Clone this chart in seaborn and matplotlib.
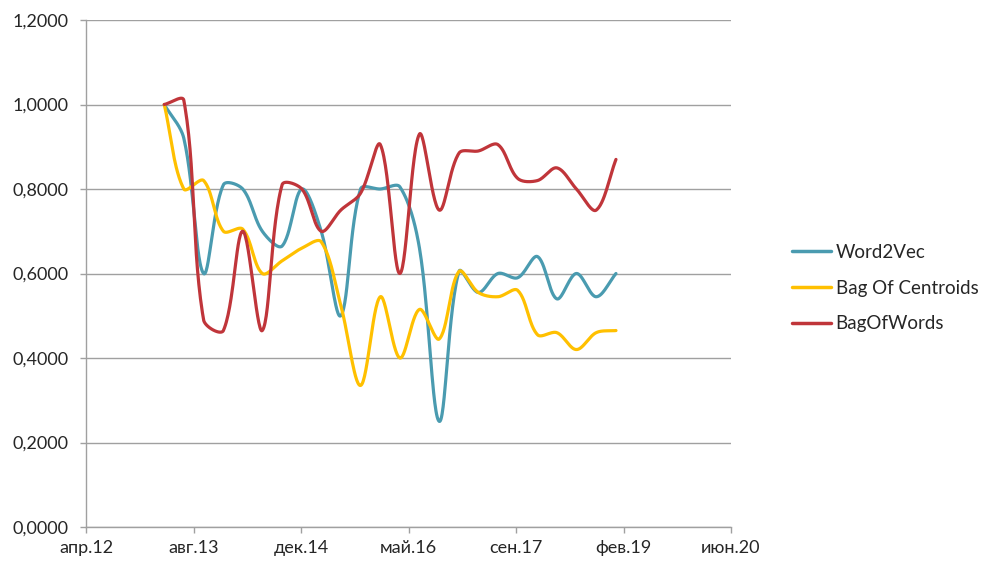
import numpy as np
import pandas as pd
import matplotlib
matplotlib.use("Agg")
import matplotlib.pyplot as plt
import matplotlib.dates as mdates
import seaborn as sns

# ---- data ----
dates = ["2013-03-31", "2013-06-30", "2013-09-30", "2013-12-31",
         "2014-03-31", "2014-06-30", "2014-09-30", "2014-12-31",
         "2015-03-31", "2015-06-30", "2015-09-30", "2015-12-31",
         "2016-03-31", "2016-06-30", "2016-09-30", "2016-12-31",
         "2017-03-31", "2017-06-30", "2017-09-30", "2017-12-31",
         "2018-03-31", "2018-06-30", "2018-09-30", "2018-12-31"]
word2vec = [1.000, 0.920, 0.600, 0.810, 0.800, 0.700, 0.665, 0.800,
            0.700, 0.500, 0.800, 0.800, 0.805, 0.660, 0.250, 0.605,
            0.555, 0.600, 0.590, 0.640, 0.540, 0.600, 0.545, 0.600]
bag_of_centroids = [1.000, 0.800, 0.820, 0.700, 0.705, 0.600, 0.630, 0.660,
                    0.675, 0.525, 0.335, 0.545, 0.400, 0.515, 0.445, 0.605,
                    0.555, 0.545, 0.560, 0.455, 0.460, 0.420, 0.460, 0.465]
bag_of_words = [1.000, 1.010, 0.490, 0.465, 0.700, 0.465, 0.810, 0.800,
                0.700, 0.750, 0.790, 0.905, 0.600, 0.930, 0.750, 0.885,
                0.890, 0.905, 0.825, 0.820, 0.850, 0.800, 0.750, 0.870]
series_names = ["Word2Vec", "Bag Of Centroids", "BagOfWords"]
colors = ["#4A9BB0", "#FFC000", "#C0353A"]

x_tick_dates = ["2012-04-01", "2013-08-14", "2014-12-27", "2016-05-10",
                "2017-09-22", "2019-02-04", "2020-06-18"]
x_tick_labels = ["апр.12", "авг.13", "дек.14", "май.16", "сен.17", "фев.19", "июн.20"]
y_ticks = [0.0, 0.2, 0.4, 0.6, 0.8, 1.0, 1.2]

# axes placement (pixels)
AX_L, AX_R, AX_T, AX_B = 86, 731, 20, 527
xt = mdates.date2num(pd.to_datetime(x_tick_dates))
sx = (AX_R - AX_L) / (xt[-1] - xt[0])   # px per day
sy = (AX_B - AX_T) / 1.2                # px per unit


def smooth(xs, ys, n=30):
    """Excel-style smoothed line: Bezier segments, control arms weighted by
    on-screen segment lengths."""
    P = np.column_stack([np.asarray(xs) * sx, np.asarray(ys) * sy]).astype(float)
    m = len(P)
    out = []
    t = np.linspace(0, 1, n, endpoint=False)[:, None]
    arms_out, arms_in = [], []
    for i in range(m):
        p0 = P[max(i - 1, 0)]
        p2 = P[min(i + 1, m - 1)]
        p1 = P[i]
        d01 = np.hypot(*(p1 - p0))
        d12 = np.hypot(*(p2 - p1))
        tot = d01 + d12
        T = p2 - p0
        if tot == 0:
            arms_out.append(np.zeros(2)); arms_in.append(np.zeros(2)); continue
        arms_out.append(T * d12 / tot / 3)
        arms_in.append(T * d01 / tot / 3)
    for i in range(m - 1):
        p1, p2 = P[i], P[i + 1]
        c1 = p1 + arms_out[i]
        c2 = p2 - arms_in[i + 1]
        seg = ((1 - t) ** 3) * p1 + 3 * ((1 - t) ** 2) * t * c1 + 3 * (1 - t) * t ** 2 * c2 + t ** 3 * p2
        out.append(seg)
    out.append(P[-1][None])
    S = np.vstack(out)
    return S[:, 0] / sx, S[:, 1] / sy


xnum = mdates.date2num(pd.to_datetime(dates))
frames = []
for name, vals in zip(series_names, [word2vec, bag_of_centroids, bag_of_words]):
    cx, cy = smooth(xnum, vals)
    frames.append(pd.DataFrame({"x": cx, "y": cy, "series": name}))
df = pd.concat(frames, ignore_index=True)

sns.set_style("white")
plt.rcParams["font.family"] = ["Lato", "DejaVu Sans"]

fig = plt.figure(figsize=(9.87, 5.66), dpi=100)
ax = fig.add_axes([AX_L / 987, 1 - AX_B / 566, (AX_R - AX_L) / 987, (AX_B - AX_T) / 566])

sns.lineplot(data=df, x="x", y="y", hue="series", hue_order=series_names,
             palette=colors, sort=False, estimator=None, linewidth=2.3, ax=ax)

ax.set_xlim(xt[0], xt[-1])
ax.set_xticks(xt)
ax.set_xticklabels(x_tick_labels)
ax.set_ylim(0, 1.2)
ax.set_yticks(y_ticks)
ax.set_yticklabels([f"{v:.4f}".replace(".", ",") for v in y_ticks])
ax.set_xlabel("")
ax.set_ylabel("")

ax.grid(axis="y", color="#A0A0A0", linewidth=1.0)
ax.grid(axis="x", visible=False)
ax.set_axisbelow(True)
for side in ["top", "right"]:
    ax.spines[side].set_visible(False)
for side in ["left", "bottom"]:
    ax.spines[side].set_color("#A0A0A0")
    ax.spines[side].set_linewidth(1.0)
ax.tick_params(axis="both", which="major", length=4.5, width=1.0, color="#A0A0A0",
               labelsize=13, labelcolor="#262626", direction="out")
ax.tick_params(axis="y", pad=8)
ax.tick_params(axis="x", pad=5)
ax.tick_params(left=True, bottom=True)

handles, labels = ax.get_legend_handles_labels()
ax.legend_.remove()
for h in handles:
    h.set_linewidth(2.5)
fig.legend(handles, labels, loc="center left", bbox_to_anchor=(0.802, 0.491),
           frameon=False, fontsize=13.5, labelspacing=1.0, handlelength=2.1,
           handletextpad=0.25, borderpad=0, borderaxespad=0, labelcolor="#262626")

fig.savefig("out.png", dpi=100)
